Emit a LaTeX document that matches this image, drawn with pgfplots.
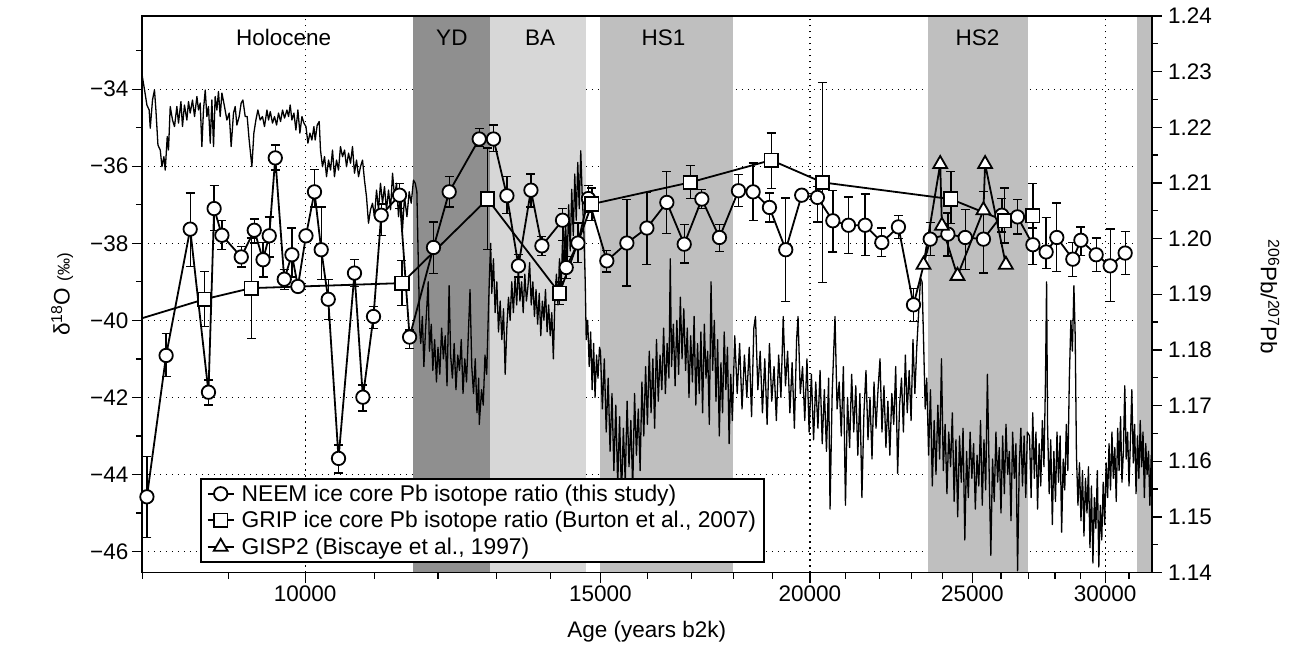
\documentclass[border=0pt]{standalone}
\usepackage{fontspec}
\setmainfont{Liberation Sans}
\usepackage{pgfplots}
\usepackage{pgfplotstable}
\pgfplotsset{compat=1.18}
\definecolor{ydc}{gray}{0.56}
\definecolor{bac}{gray}{0.845}
\definecolor{hsc}{gray}{0.75}
\newcommand{\bigf}{\fontsize{22.5}{27}\selectfont}
\newcommand{\legf}{\fontsize{22.8}{27}\selectfont}

\pgfplotstableread{
age d
7985 -33.50
8020 -34.02
8046 -34.41
8071 -34.54
8083 -35.01
8108 -34.28
8130 -34.02
8146 -34.54
8169 -35.45
8195 -35.58
8214 -36.01
8236 -35.75
8251 -36.10
8274 -35.23
8288 -35.58
8308 -34.45
8334 -34.80
8357 -34.97
8384 -34.45
8403 -34.88
8431 -34.32
8449 -34.97
8472 -34.41
8500 -34.80
8519 -34.32
8539 -34.62
8566 -34.28
8590 -34.71
8618 -34.19
8637 -34.54
8657 -34.36
8677 -35.49
8696 -34.54
8717 -34.02
8737 -34.71
8756 -34.45
8777 -35.40
8797 -34.28
8817 -35.49
8837 -34.19
8858 -34.54
8877 -34.06
8898 -34.71
8919 -34.10
8951 -34.45
8980 -34.80
9009 -34.62
9033 -35.49
9062 -34.62
9083 -34.45
9104 -34.93
9133 -34.71
9158 -34.36
9180 -34.28
9209 -34.71
9234 -34.71
9259 -35.32
9294 -36.01
9319 -35.14
9345 -34.80
9371 -34.54
9400 -34.80
9430 -34.71
9456 -34.97
9488 -34.54
9509 -34.80
9531 -34.58
9561 -34.88
9587 -34.71
9614 -34.93
9640 -34.62
9667 -34.84
9693 -34.54
9720 -34.75
9752 -34.54
9774 -34.71
9796 -34.41
9819 -34.80
9846 -34.62
9873 -35.06
9900 -34.54
9927 -35.14
9955 -34.71
9982 -34.88
10010 -34.97
10037 -35.40
10065 -35.14
10092 -35.32
10120 -34.97
10138 -35.32
10166 -34.93
10194 -34.84
10212 -35.58
10240 -36.01
10269 -35.75
10297 -36.27
10325 -35.84
10354 -36.10
10382 -35.58
10410 -36.27
10439 -35.84
10468 -36.10
10496 -35.49
10526 -35.75
10555 -35.58
10584 -36.01
10613 -35.66
10642 -35.92
10671 -35.49
10700 -36.18
10730 -35.84
10760 -36.27
10789 -36.01
10819 -35.84
10848 -36.36
10878 -36.79
10908 -37.48
10938 -37.13
10968 -36.96
10998 -37.31
11029 -36.62
11059 -37.13
11089 -36.44
11120 -36.96
11150 -36.53
11181 -37.13
11212 -36.62
11243 -37.13
11274 -36.18
11305 -36.79
11336 -36.44
11367 -37.31
11398 -36.62
11429 -37.65
11461 -36.79
11499 -37.31
11535 -36.66
11567 -36.96
11603 -36.36
11631 -36.44
11657 -36.66
11680 -38.50
11705 -40.30
11720 -40.60
11745 -39.90
11770 -41.20
11795 -40.30
11840 -39.00
11860 -40.80
11890 -40.10
11915 -41.30
11945 -40.50
11975 -41.60
12000 -40.70
12030 -41.40
12060 -40.20
12090 -41.00
12120 -40.40
12150 -41.70
12185 -39.10
12210 -40.90
12240 -41.50
12270 -40.60
12300 -41.80
12330 -40.90
12360 -41.30
12390 -40.50
12420 -41.90
12450 -41.00
12480 -41.60
12540 -39.20
12570 -41.20
12600 -41.90
12630 -41.00
12660 -42.40
12690 -41.50
12700 -42.70
12740 -41.80
12770 -42.20
12800 -40.90
12830 -41.40
12860 -39.80
12880 -38.80
12900 -38.00
12920 -39.30
12950 -38.40
12980 -39.80
13010 -39.00
13040 -40.30
13070 -39.50
13100 -40.50
13130 -39.70
13160 -41.40
13190 -40.20
13220 -39.40
13250 -40.00
13280 -39.00
13310 -39.80
13340 -38.90
13370 -39.60
13400 -38.60
13430 -39.50
13460 -39.00
13490 -39.80
13520 -38.80
13550 -39.50
13580 -39.10
13610 -38.50
13640 -39.60
13670 -39.00
13700 -39.90
13730 -39.20
13760 -40.10
13790 -39.30
13820 -40.40
13850 -39.50
13880 -40.00
13910 -39.20
13940 -40.30
13970 -39.60
14000 -40.40
14030 -39.80
14060 -41.00
14090 -39.50
14120 -38.80
14150 -39.60
14180 -38.40
14210 -39.20
14240 -37.90
14270 -38.70
14300 -37.50
14330 -38.50
14360 -37.00
14390 -38.20
14420 -36.60
14450 -37.80
14480 -36.20
14510 -37.40
14540 -35.90
14570 -37.10
14600 -35.60
14630 -36.80
14660 -37.60
14690 -39.00
14710 -40.50
14740 -40.00
14770 -41.20
14800 -40.30
14830 -41.80
14860 -40.60
14890 -42.00
14920 -40.90
14950 -41.50
14980 -40.70
15000 -40.80
15040 -42.30
15080 -41.00
15120 -42.90
15160 -41.50
15200 -43.40
15240 -41.90
15280 -43.90
15320 -42.20
15360 -44.30
15400 -42.50
15440 -44.60
15480 -42.80
15520 -44.20
15560 -42.10
15600 -43.80
15640 -42.60
15680 -44.40
15720 -41.90
15760 -43.50
15800 -42.30
15840 -43.90
15880 -41.60
15920 -43.00
15960 -41.20
16000 -42.70
16040 -40.80
16080 -42.40
16120 -41.00
16160 -42.80
16200 -40.50
16240 -42.10
16280 -40.90
16320 -41.80
16360 -40.20
16400 -41.90
16440 -40.60
16480 -41.50
16510 -38.40
16540 -41.20
16580 -40.10
16620 -41.70
16660 -40.00
16700 -41.40
16740 -39.40
16780 -41.00
16820 -39.70
16860 -41.30
16900 -40.20
16940 -42.00
16980 -40.40
17020 -41.60
17060 -39.90
17100 -42.20
17140 -40.60
17180 -41.90
17220 -40.30
17260 -42.40
17300 -40.10
17340 -41.50
17380 -40.80
17420 -42.70
17460 -39.00
17500 -41.30
17540 -40.00
17580 -42.10
17620 -40.50
17660 -43.00
17700 -41.10
17740 -42.40
17780 -40.30
17820 -41.80
17860 -40.70
17900 -43.20
17940 -41.40
17980 -42.60
18040 -40.40
18100 -41.90
18160 -40.60
18220 -42.30
18280 -40.90
18340 -42.00
18400 -40.70
18460 -42.50
18520 -40.20
18560 -39.90
18620 -41.80
18680 -40.80
18740 -42.40
18800 -41.00
18860 -42.70
18920 -40.60
18980 -42.10
19040 -41.20
19100 -42.60
19160 -40.90
19220 -42.00
19280 -39.90
19340 -41.70
19400 -40.80
19460 -42.40
19520 -41.10
19580 -42.80
19640 -40.50
19680 -39.90
19740 -41.90
19800 -41.20
19860 -42.60
19920 -41.00
19980 -42.90
20040 -41.40
20100 -43.10
20160 -41.60
20220 -42.80
20280 -41.30
20340 -43.20
20400 -41.80
20460 -43.40
20520 -41.50
20560 -44.90
20620 -41.90
20700 -39.90
20760 -42.30
20820 -41.60
20880 -43.00
20940 -41.20
21000 -44.80
21060 -42.00
21120 -43.30
21180 -41.40
21240 -42.90
21300 -41.70
21360 -43.50
21420 -41.90
21480 -44.60
21540 -42.40
21600 -41.30
21660 -43.10
21720 -42.00
21780 -43.60
21840 -41.60
21900 -42.80
21960 -41.80
22020 -41.00
22080 -42.90
22140 -41.70
22200 -43.30
22260 -42.10
22320 -43.50
22380 -41.90
22440 -42.70
22500 -41.20
22560 -43.97
22620 -42.20
22680 -41.50
22740 -42.90
22800 -40.90
22860 -42.40
22920 -41.30
22980 -42.60
23040 -40.50
23100 -41.90
23160 -40.70
23220 -39.80
23280 -38.90
23330 -39.00
23380 -40.60
23430 -42.30
23480 -41.50
23540 -43.50
23600 -41.80
23660 -44.30
23720 -42.60
23780 -44.00
23840 -42.20
23900 -43.60
23960 -41.00
24020 -43.90
24080 -42.70
24140 -44.50
24200 -42.90
24260 -43.80
24320 -42.40
24380 -44.70
24440 -43.10
24500 -45.10
24560 -43.00
24620 -44.20
24680 -42.80
24740 -45.70
24800 -43.40
24860 -44.60
24920 -42.90
24980 -44.10
25040 -43.20
25100 -44.90
25160 -43.50
25220 -44.30
25280 -42.60
25340 -44.80
25400 -43.10
25460 -44.40
25520 -41.40
25580 -43.90
25640 -46.10
25700 -43.60
25760 -44.70
25820 -42.90
25880 -44.20
25940 -43.30
26000 -45.00
26060 -43.00
26120 -44.50
26180 -42.70
26240 -44.00
26300 -43.40
26360 -45.20
26420 -42.90
26480 -44.10
26540 -43.20
26600 -46.50
26660 -43.80
26720 -42.80
26780 -44.30
26840 -43.00
26900 -44.60
26960 -42.90
27040 -43.00
27100 -44.60
27160 -42.40
27220 -44.10
27280 -42.90
27340 -44.90
27400 -43.20
27460 -44.30
27520 -42.60
27580 -43.80
27640 -41.50
27680 -39.00
27720 -42.80
27780 -44.50
27840 -43.10
27900 -45.30
27960 -43.40
28020 -44.70
28080 -42.90
28140 -44.20
28200 -43.00
28260 -45.50
28320 -43.60
28380 -44.40
28440 -42.70
28500 -43.90
28560 -41.50
28620 -40.00
28680 -40.80
28740 -39.10
28790 -40.40
28840 -43.50
28900 -44.80
28960 -43.70
29020 -45.20
29080 -43.90
29140 -45.60
29200 -44.10
29260 -45.00
29320 -43.80
29380 -45.90
29440 -44.30
29500 -46.30
29560 -44.60
29620 -45.40
29680 -43.90
29740 -46.40
29800 -44.80
29860 -45.70
29920 -44.20
29980 -45.30
30040 -43.70
30100 -44.60
30160 -43.20
30220 -44.40
30280 -42.90
30340 -44.10
30400 -43.30
30460 -44.70
30520 -42.80
30580 -43.90
30640 -42.50
30700 -44.20
30760 -43.40
30820 -41.70
30880 -43.60
30940 -42.90
31000 -44.30
31060 -43.10
31120 -41.80
31180 -43.70
31240 -42.70
31300 -44.50
31360 -43.00
31420 -44.10
31480 -42.60
31540 -43.80
31600 -42.90
31660 -44.60
31720 -43.20
31780 -44.00
31840 -43.40
31900 -44.80
31960 -43.50
32000 -44.00
}\dataD

\pgfplotstableread{
age v ep em
8046 1.1536 0.0072 0.0073
8261 1.1790 0.0040 0.0038
8539 1.2017 0.0065 0.0067
8756 1.1724 0.0022 0.0023
8824 1.2054 0.0042 0.0039
8919 1.2006 0.0027 0.0025
9159 1.1967 0.0019 0.0018
9324 1.2015 0.0020 0.0023
9437 1.1962 0.0031 0.0031
9518 1.2005 0.0034 0.0038
9597 1.2145 0.0023 0.0022
9716 1.1927 0.0018 0.0018
9819 1.1971 0.0048 0.0040
9900 1.1914 0.0009 0.0009
10010 1.2005 0.0010 0.0010
10128 1.2084 0.0040 0.0027
10222 1.1980 0.0077 0.0054
10321 1.1891 0.0035 0.0037
10468 1.1605 0.0024 0.0026
10700 1.1938 0.0024 0.0024
10824 1.1715 0.0022 0.0025
10983 1.1860 0.0018 0.0021
11100 1.2042 0.0020 0.0036
11383 1.2078 0.0021 0.0024
11541 1.1823 0.0013 0.0020
11926 1.1984 0.0046 0.0047
12186 1.2084 0.0028 0.0027
12699 1.2179 0.0019 0.0014
12950 1.2179 0.0025 0.0023
13191 1.2077 0.0034 0.0032
13402 1.1951 0.0020 0.0020
13634 1.2087 0.0029 0.0030
13841 1.1987 0.0017 0.0017
14239 1.2033 0.0021 0.0036
14311 1.1948 0.0020 0.0020
14543 1.1992 0.0036 0.0035
14755 1.2072 0.0024 0.0024
15132 1.1960 0.0019 0.0020
15554 1.1992 0.0078 0.0077
15987 1.2019 0.0064 0.0066
16433 1.2065 0.0056 0.0056
16828 1.1990 0.0035 0.0034
17242 1.2071 0.0017 0.0017
17664 1.2002 0.0023 0.0025
18131 1.2086 0.0029 0.0028
18501 1.2084 0.0052 0.0051
18919 1.2056 0.0026 0.0026
19350 1.1980 0.0093 0.0093
19779 1.2078 0.0010 0.0010
20207 1.2074 0.0020 0.0044
20639 1.2032 0.0055 0.0056
21087 1.2024 0.0051 0.0051
21575 1.2024 0.0056 0.0054
22076 1.1993 0.0026 0.0025
22584 1.2021 0.0021 0.0021
23057 1.1881 0.0029 0.0030
23592 1.1999 0.0030 0.0030
24172 1.2008 0.0038 0.0039
24754 1.2002 0.0050 0.0058
25381 1.1999 0.0086 0.0061
26032 1.2042 0.0030 0.0030
26596 1.2039 0.0031 0.0031
27164 1.1989 0.0030 0.0036
27664 1.1976 0.0062 0.0030
28073 1.2002 0.0062 0.0061
28696 1.1963 0.0030 0.0031
29016 1.1997 0.0024 0.0027
29631 1.1971 0.0030 0.0030
30207 1.1951 0.0066 0.0064
30836 1.1974 0.0039 0.0039
}\dataNEEM

\pgfplotstableread{
age v ep em
7546 1.1834 0 0
8707 1.1891 0.0050 0.0049
9285 1.1911 0.0090 0.0090
11420 1.1920 0.0041 0.0040
12844 1.2071 0.0092 0.0090
14180 1.1902 0.0020 0.0020
14824 1.2062 0.0029 0.0029
16967 1.2101 0.0030 0.0029
18964 1.2141 0.0049 0.0051
20346 1.2101 0.0179 0.0180
24272 1.2071 0.0049 0.0044
26125 1.2032 0.0059 0.0040
27164 1.2041 0.0058 0.0050
}\dataGRIP

\pgfplotstableread{
age v
23375 1.1953
23918 1.2134
23974 1.2023
24491 1.1933
25381 1.2051
25439 1.2134
26175 1.1953
}\dataGISP

\begin{document}
\begin{tikzpicture}
\useasboundingbox (-141.7pt,-75.5pt) rectangle (1161.3pt,572.5pt);
\begin{axis}[
  at={(0pt,0pt)}, anchor=south west,
  width=1010pt, height=556.5pt, scale only axis,
  xmode=log, xmin=7991, xmax=31985,
  ymin=-46.545, ymax=-32.1,
  xtick={10000,15000,20000,25000,30000},
  xticklabels={10000,15000,20000,25000,30000},
  minor xtick={8000,9000,11000,12000,13000,14000,16000,17000,18000,19000,21000,22000,23000,24000,26000,27000,28000,29000,31000},
  ytick={-46,-44,-42,-40,-38,-36,-34},
  yticklabels={−46,−44,−42,−40,−38,−36,−34},
  minor ytick={-45,-43,-41,-39,-37,-35,-33},
  xtick pos=left, ytick pos=left,
  tick align=outside,
  major tick length=10pt, minor tick length=6pt,
  every tick/.style={black, line width=1.3pt},
  grid=major,
  major grid style={black, line width=1.3pt, dash pattern=on 1.3pt off 4.7pt},
  axis line style={line width=1.5pt},
  tick label style={font=\bigf},
  xlabel={Age (years b2k)},
  xlabel style={yshift=-12pt},
  ylabel={δ\textsuperscript{18}O {\fontsize{17}{20}\selectfont(‰)}},
  ylabel style={yshift=10pt},
  label style={font=\bigf},
  clip=true,
]
\addplot[fill=ydc, draw=none, forget plot] coordinates {(11600,-47) (12890,-47) (12890,-32) (11600,-32)} -- cycle;
\addplot[fill=bac, draw=none, forget plot] coordinates {(12890,-47) (14700,-47) (14700,-32) (12890,-32)} -- cycle;
\addplot[fill=hsc, draw=none, forget plot] coordinates {(14985,-47) (18000,-47) (18000,-32) (14985,-32)} -- cycle;
\addplot[fill=hsc, draw=none, forget plot] coordinates {(23520,-47) (27000,-47) (27000,-32) (23520,-32)} -- cycle;
\addplot[fill=hsc, draw=none, forget plot] coordinates {(31330,-47) (33000,-47) (33000,-32) (31330,-32)} -- cycle;
\addplot[black, line width=1.3pt, no marks, line join=round] table[x=age, y=d] {\dataD};
\node[font=\bigf] at (axis cs:9707,-32.67) {Holocene};
\node[font=\bigf] at (axis cs:12231,-32.67) {YD};
\node[font=\bigf] at (axis cs:13809,-32.67) {BA};
\node[font=\bigf] at (axis cs:16355,-32.67) {HS1};
\node[font=\bigf] at (axis cs:25172,-32.67) {HS2};
\draw[line width=1.5pt] (rel axis cs:0,0) rectangle (rel axis cs:1,1);
\end{axis}
\begin{axis}[
  at={(0pt,0pt)}, anchor=south west,
  width=1010pt, height=556.5pt, scale only axis,
  xmode=log, xmin=7991, xmax=31985,
  ymin=1.14, ymax=1.24,
  hide x axis, axis y line*=right,
  ytick={1.14,1.15,1.16,1.17,1.18,1.19,1.20,1.21,1.22,1.23,1.24},
  yticklabels={1.14,1.15,1.16,1.17,1.18,1.19,1.20,1.21,1.22,1.23,1.24},
  minor ytick={1.145,1.155,1.165,1.175,1.185,1.195,1.205,1.215,1.225,1.235},
  tick align=outside,
  major tick length=10pt, minor tick length=6pt,
  every tick/.style={black, line width=1.3pt},
  axis line style={line width=1.5pt},
  tick label style={font=\bigf},
  yticklabel style={xshift=3pt},
  ylabel={\textsuperscript{206}Pb/\textsuperscript{207}Pb},
  ylabel style={font=\bigf, rotate=180, at={(rel axis cs:1.117,0.495)}, anchor=center},
  legend style={at={(0.0577,0.1698)}, anchor=north west, draw=black, line width=1.5pt, fill=white, font=\legf, legend cell align=left, inner xsep=6pt, inner ysep=4pt, row sep=4.5pt, /tikz/every odd column/.append style={column sep=5pt}},
  legend image code/.code={\draw[mark repeat=2,mark phase=2,#1] plot coordinates {(0pt,0pt) (13pt,0pt) (26pt,0pt)};},
]
\addplot[black, line width=1.8pt, mark=*, mark size=6.7pt, mark options={fill=white, draw=black, line width=1.8pt},
  error bars/.cd, y dir=both, y explicit, error bar style={line width=1.3pt}, error mark options={rotate=90, mark size=4.5pt, line width=1.3pt}]
  table[x=age, y=v, y error plus=ep, y error minus=em] {\dataNEEM};
\addlegendentry{NEEM ice core Pb isotope ratio (this study)}
\addplot[black, line width=1.8pt, mark=square*, mark size=6.7pt, mark options={fill=white, draw=black, line width=1.8pt},
  error bars/.cd, y dir=both, y explicit, error bar style={line width=1.3pt}, error mark options={rotate=90, mark size=4.5pt, line width=1.3pt}]
  table[x=age, y=v, y error plus=ep, y error minus=em] {\dataGRIP};
\addlegendentry{GRIP ice core Pb isotope ratio (Burton et al., 2007)}
\addplot[black, line width=1.8pt, mark=triangle*, mark size=8pt, mark options={fill=white, draw=black, line width=1.8pt}]
  table[x=age, y=v] {\dataGISP};
\addlegendentry{GISP2 (Biscaye et al., 1997)}
\end{axis}
\end{tikzpicture}
\end{document}
